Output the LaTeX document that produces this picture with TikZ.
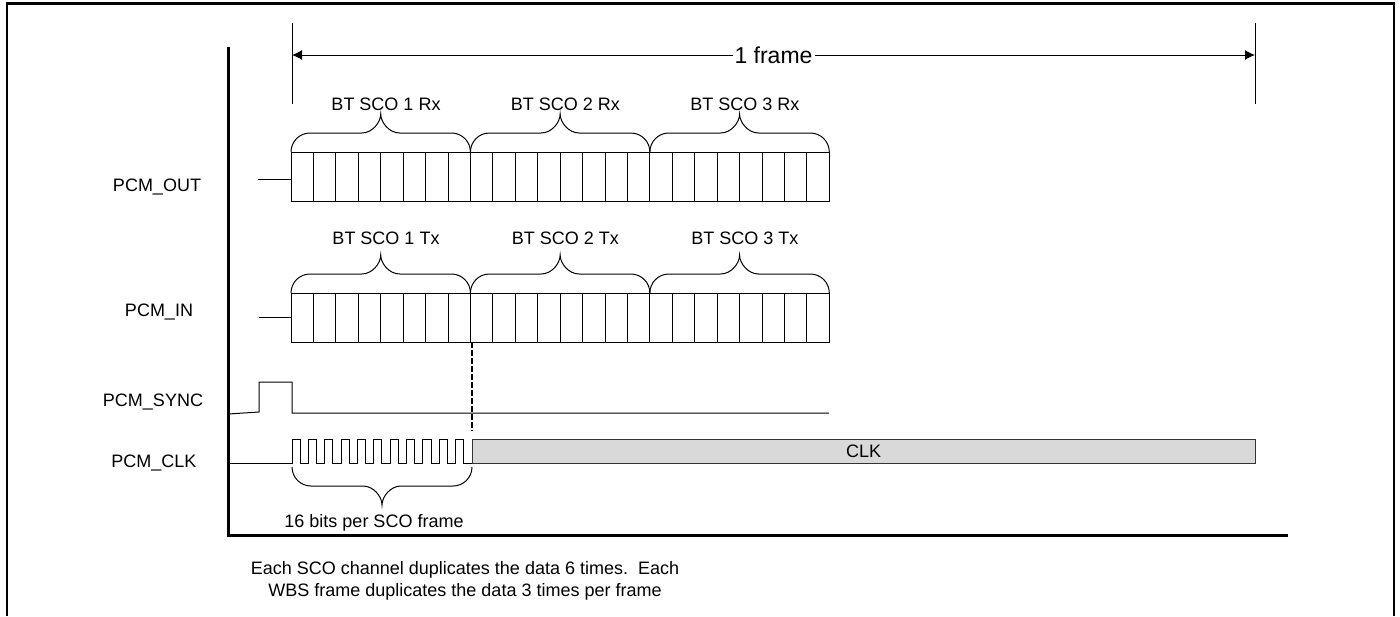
\documentclass[tikz,border=0pt]{standalone}
\usepackage{fontspec}
\setmainfont{Liberation Sans}
\usetikzlibrary{arrows.meta, positioning}

% curly brace over a span: #1,#2 = x of the ends, #3 = y of the ends, #4 = 1 tip up / -1 tip down
\newcommand{\scobrace}[4]{%
  \pgfmathsetmacro{\bmid}{(#1+#2)/2}
  \draw[sig] (#1,#3) .. controls (#1,{#3-(#4)*10.5}) and ({#1+8.5},{#3-(#4)*19}) .. ({#1+19},{#3-(#4)*19})
    -- ({\bmid-19},{#3-(#4)*19}) .. controls ({\bmid-8.5},{#3-(#4)*19}) and (\bmid,{#3-(#4)*29.5}) .. (\bmid,{#3-(#4)*38})
    .. controls (\bmid,{#3-(#4)*29.5}) and ({\bmid+8.5},{#3-(#4)*19}) .. ({\bmid+19},{#3-(#4)*19})
    -- ({#2-19},{#3-(#4)*19}) .. controls ({#2-8.5},{#3-(#4)*19}) and (#2,{#3-(#4)*10.5}) .. (#2,#3);
}

\begin{document}
\begin{tikzpicture}[x=0.5pt, y=-0.5pt,
        sig/.style={draw=black, line width=0.5pt},
        axis/.style={draw=black, line width=1.5pt},
        lbl/.style={font=\fontsize{9}{11}\selectfont, inner sep=0pt, align=center},
        framearrow/.style={{Latex[length=5pt,width=5pt]}-{Latex[length=5pt,width=5pt]}, line width=0.5pt},
        clkbox/.style={draw=black!80, fill=black!15, line width=0.5pt},
        dashline/.style={draw=black, dash pattern=on 3pt off 1pt, line width=0.7pt}
    ]
        \useasboundingbox (0,0) rectangle (1400,616);
        \draw[line width=1.2pt] (7,616) -- (7,3.5) -- (1394,3.5) -- (1394,616);

        % Axes
        \draw[axis] (228,47) -- (228,535) -- (1288,535);

        % Frame
        \coordinate (fs) at (292,55);
        \coordinate (fe) at (1255,55);
        \draw[sig] (292,23) -- (292,104);
        \draw[sig] (1255,23) -- (1255,104);
        \draw[framearrow] (fs) -- node[fill=white, inner sep=1pt, font=\fontsize{11.5}{13}\selectfont] (frametxt) {1 frame} (fe);

        % Signal names
        \node[lbl] (lout)  at (157,186.5) {PCM\_OUT};
        \node[lbl] (lin)   at (159,311.5) {PCM\_IN};
        \node[lbl] (lsync) at (153,401.5) {PCM\_SYNC};
        \node[lbl] (lclk)  at (154,462.5) {PCM\_CLK};

        % PCM_OUT and PCM_IN slots
        \draw[sig] (258,179) -- (291,179);
        \draw[sig] (259,317) -- (291,317);
        \foreach \y in {152, 293} {
            \draw[sig] (291,\y) rectangle (829.3,{\y+49});
            \foreach \k in {1,...,23}
                \draw[sig] ({291+\k*22.43},\y) -- ++(0,49);
        }
        \foreach \g [count=\i] in {0,1,2} {
            \pgfmathsetmacro{\xa}{291+\g*179.43}
            \pgfmathsetmacro{\xb}{\xa+179.43}
            \scobrace{\xa}{\xb}{152}{1}
            \scobrace{\xa}{\xb}{293}{1}
            \node[lbl] (rx\i) at ({\xa+95},104) {BT SCO \i\ Rx};
            \node[lbl] (tx\i) at ({\xa+95},238) {BT SCO \i\ Tx};
        }
        \draw[dashline] (472,342) -- (472,431);

        % PCM_SYNC
        \draw[sig] (228,414) -- (259,412) -- (259,382) -- (292,382) -- (292,413) -- (829,413);

        % PCM_CLK
        \draw[clkbox] (472,439) rectangle (1255,463);
        \node[lbl] (clktxt) at (863.5,451) {CLK};
        \draw[sig] (228,463) -- (292,463)
            \foreach \k in {1,...,11} { -- ++(0,-24) -- ++(8.18,0) -- ++(0,24) -- ++(8.18,0) };
        \scobrace{292}{472}{467}{-1}
        \node[lbl] (bits) at (374,523) {16 bits per SCO frame};

        % Note
        \node[lbl] (note) at (465,581) {Each SCO channel duplicates the data 6 times.\ \ Each\\WBS frame duplicates the data 3 times per frame};

    \end{tikzpicture}
\end{document}
